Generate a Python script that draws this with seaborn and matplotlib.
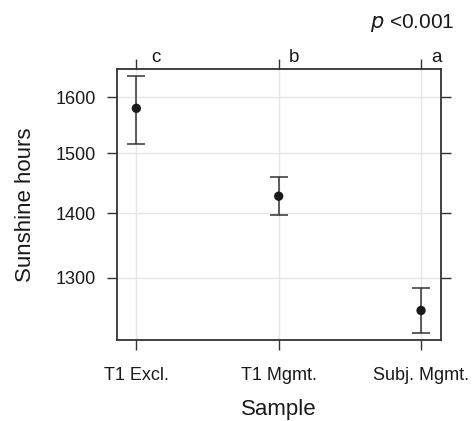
import numpy as np
import pandas as pd
import matplotlib
matplotlib.use("Agg")
import matplotlib.pyplot as plt
import seaborn as sns
from matplotlib.ticker import FixedLocator, FixedFormatter, NullLocator

# ---- data ----
categories = ["T1 Excl.", "T1 Mgmt.", "Subj. Mgmt."]
means = [1580, 1428, 1252]
ci_low = [1517, 1398, 1220]
ci_high = [1640, 1460, 1285]
letters = ["c", "b", "a"]
y_ticks = [1300, 1400, 1500, 1600]
p_label = "<0.001"

df = pd.DataFrame({"Sample": categories, "Sunshine hours": means,
                   "lo": ci_low, "hi": ci_high})
df["pos"] = np.arange(len(categories))

sns.set_theme(style="white")
plt.rcParams["font.family"] = ["Liberation Sans", "DejaVu Sans"]

DPI = 100
fig = plt.figure(figsize=(4.75, 4.21), dpi=DPI)
ax = fig.add_axes([0.2457, 0.1924, 0.9278 - 0.2457, 0.8361 - 0.1924])

dark = "#333333"
ax.set_yscale("log")

# error bars
ax.errorbar(df["pos"], df["Sunshine hours"],
            yerr=[df["Sunshine hours"] - df["lo"], df["hi"] - df["Sunshine hours"]],
            fmt="none", ecolor=dark, elinewidth=1.1, capsize=6.8, capthick=1.1, zorder=3)
sns.scatterplot(data=df, x="pos", y="Sunshine hours", ax=ax, color="#1a1a1a",
                s=45, edgecolor="none", zorder=4, legend=False)

ax.set_xlim(-0.138, 2.138)
ax.set_ylim(1210.2, 1653.1)

ax.xaxis.set_major_locator(FixedLocator(df["pos"].tolist()))
ax.xaxis.set_major_formatter(FixedFormatter(categories))
ax.xaxis.set_minor_locator(NullLocator())
ax.yaxis.set_major_locator(FixedLocator(y_ticks))
ax.yaxis.set_major_formatter(FixedFormatter([str(v) for v in y_ticks]))
ax.yaxis.set_minor_locator(NullLocator())

ax.grid(True, color="#e6e6e6", linewidth=1.0, zorder=0)
ax.set_axisbelow(True)

for s in ax.spines.values():
    s.set_color(dark)
    s.set_linewidth(1.3)

ax.tick_params(axis="both", which="major", direction="out", length=7.2, width=1.0,
               color=dark, labelcolor="#1a1a1a", labelsize=13,
               bottom=True, top=True, left=True, right=True,
               labeltop=False, labelright=False)
ax.tick_params(axis="y", pad=8)
ax.tick_params(axis="x", pad=12)

ax.set_xlabel("Sample", fontsize=16, color="#1a1a1a", labelpad=11)
ax.set_ylabel("Sunshine hours", fontsize=16, color="#1a1a1a", labelpad=14)

# significance letters above top ticks
offsets = [15, 10, 10]
for pos, let, off in zip(df["pos"], letters, offsets):
    ax.annotate(let, xy=(pos, 1), xycoords=("data", "axes fraction"),
                xytext=(off * 72 / DPI, 7.5 * 72 / DPI), textcoords="offset points",
                ha="left", va="baseline", fontsize=13.5, color="#1a1a1a")

fig.text(455 / 475, 1 - 27.5 / 421, r"$\it{p}$ " + p_label, ha="right", va="baseline",
         fontsize=15, color="#1a1a1a")

fig.savefig("out.png", dpi=DPI, facecolor="white")
